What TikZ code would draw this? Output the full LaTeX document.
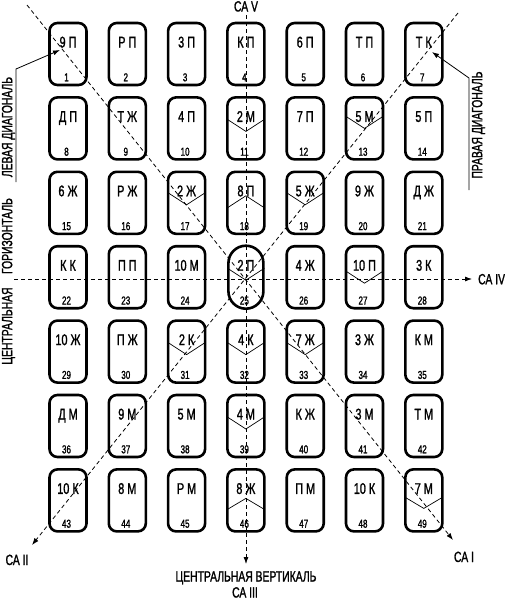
\documentclass[tikz,border=0pt]{standalone}
\usepackage{fontspec}
\setmainfont{Liberation Sans}[FakeStretch=0.7,FakeBold=1.3]
\usetikzlibrary{arrows.meta}
\tikzset{
 cardbox/.style={draw, line width=2.6pt, rounded corners=8pt, minimum width=37pt, minimum height=62pt, inner sep=0pt, outer sep=0pt},
 ovalbox/.style={cardbox, rounded corners=17.5pt, minimum width=35pt, minimum height=63pt},
 cardlbl/.style={font=\fontsize{15.5}{16}\selectfont, inner sep=0pt, anchor=base},
 cardnum/.style={font=\fontsize{11.5}{12}\selectfont, inner sep=0pt, anchor=base},
 chev/.style={line width=0.7pt},
 axisline/.style={line width=0.8pt, dash pattern=on 4pt off 3pt},
 axisarrow/.style={axisline, -{Latex[length=7pt,width=5pt]}},
 caption/.style={font=\fontsize{14.8}{15}\selectfont, inner sep=0pt, anchor=base},
 pointer/.style={line width=0.8pt, -{Latex[length=7pt,width=5pt]}},
}
% chevron: card name, x, y(center), side offset from top, vertex offset from top
\newcommand\chevV[5]{%
  \draw[chev] ({#2-18.5},{#3-31+#4}) -- ({#2},{#3-31+#5}) -- ({#2+18.5},{#3-31+#4});}
\begin{document}
\begin{tikzpicture}[x=1pt,y=-1pt]
\useasboundingbox (0,0) rectangle (504,600);

% axes
\coordinate (vtop) at (246,15);
\coordinate (vbot) at (246,564);
\coordinate (hleft) at (14,279);
\coordinate (hright) at (472,279);
\coordinate (d1a) at (27,5);
\coordinate (d1b) at (453,540);
\coordinate (d2a) at (458,13);
\coordinate (d2b) at (32,545);
\draw[axisarrow] (vtop) -- (vbot);
\draw[axisarrow] (hleft) -- (hright);
\draw[axisarrow] (d1a) -- (d1b);
\draw[axisarrow] (d2a) -- (d2b);

% cards
\foreach \lab [count=\i from 0] in {9 П,Р П,3 П,К П,6 П,Т П,Т К,
  Д П,Т Ж,4 П,2 М,7 П,5 М,5 П,
  6 Ж,Р Ж,2 Ж,8 П,5 Ж,9 Ж,Д Ж,
  К К,П П,10 М,2 П,4 Ж,10 П,3 К,
  10 Ж,П Ж,2 К,4 К,7 Ж,3 Ж,К М,
  Д М,9 М,5 М,4 М,К Ж,3 М,Т М,
  10 К,8 М,Р М,8 Ж,П М,10 К,7 М}{
  \pgfmathtruncatemacro\col{mod(\i,7)}
  \pgfmathtruncatemacro\row{int(\i/7)}
  \pgfmathtruncatemacro\num{\i+1}
  \pgfmathsetmacro\cx{68+59.3*\col}
  \pgfmathsetmacro\cy{54+74.4*\row}
  \ifnum\num=25
    \node[ovalbox] (c\num) at (\cx,\cy) {};
  \else
    \node[cardbox] (c\num) at (\cx,\cy) {};
  \fi
  \node[cardlbl] (l\num) at (\cx,{\cy-6.5}) {\lab};
  \node[cardnum] (n\num) at ({\cx-1.5},{\cy+27.3}) {\num};
}

% chevrons (V)
\chevV{c11}{245.9}{128.4}{22}{34}
\chevV{c13}{364.5}{128.4}{19}{31}
\chevV{c17}{186.6}{202.8}{21}{33}
\chevV{c19}{305.2}{202.8}{21}{33}
\chevV{c25}{245.9}{277.2}{22}{34}
\chevV{c27}{364.5}{277.2}{25}{37}
\chevV{c31}{186.6}{351.6}{22}{34}
\chevV{c32}{245.9}{351.6}{22}{34}
\chevV{c33}{305.2}{351.6}{22}{34}
\chevV{c39}{245.9}{426}{22}{34}
\chevV{c49}{423.8}{500.4}{28}{39}
% chevrons (roof)
\chevV{c18}{245.9}{202.8}{36}{24}
\chevV{c46}{245.9}{500.4}{40}{29}

% captions
\node[caption] (cav) at (246,11.5) {СА V};
\node[caption, anchor=base west] (caiv) at (478,284.3) {СА IV};
\node[caption] (cai) at (464,562) {СА I};
\node[caption] (caii) at (17,565) {СА II};
\node[caption] (cvert) at (246,581.5) {ЦЕНТРАЛЬНАЯ ВЕРТИКАЛЬ};
\node[caption] (caiii) at (245,597.5) {СА III};
\node[caption, rotate=90] (ldiag) at (12.2,127) {ЛЕВАЯ ДИАГОНАЛЬ};
\node[caption, rotate=90] (rdiag) at (482.2,125) {ПРАВАЯ ДИАГОНАЛЬ};
\node[caption, rotate=90] (hor1) at (12.2,236) {ГОРИЗОНТАЛЬ};
\node[caption, rotate=90] (hor2) at (12.2,326) {ЦЕНТРАЛЬНАЯ};

% pointers
\coordinate (lp1) at (16,182);
\coordinate (lp2) at (16,69);
\coordinate (ltip) at (60,50);
\coordinate (rp1) at (469,190);
\coordinate (rp2) at (469,78);
\coordinate (rtip) at (432,52);
\draw[pointer] (lp1) -- (lp2) -- (ltip);
\draw[pointer] (rp1) -- (rp2) -- (rtip);
\end{tikzpicture}
\end{document}
